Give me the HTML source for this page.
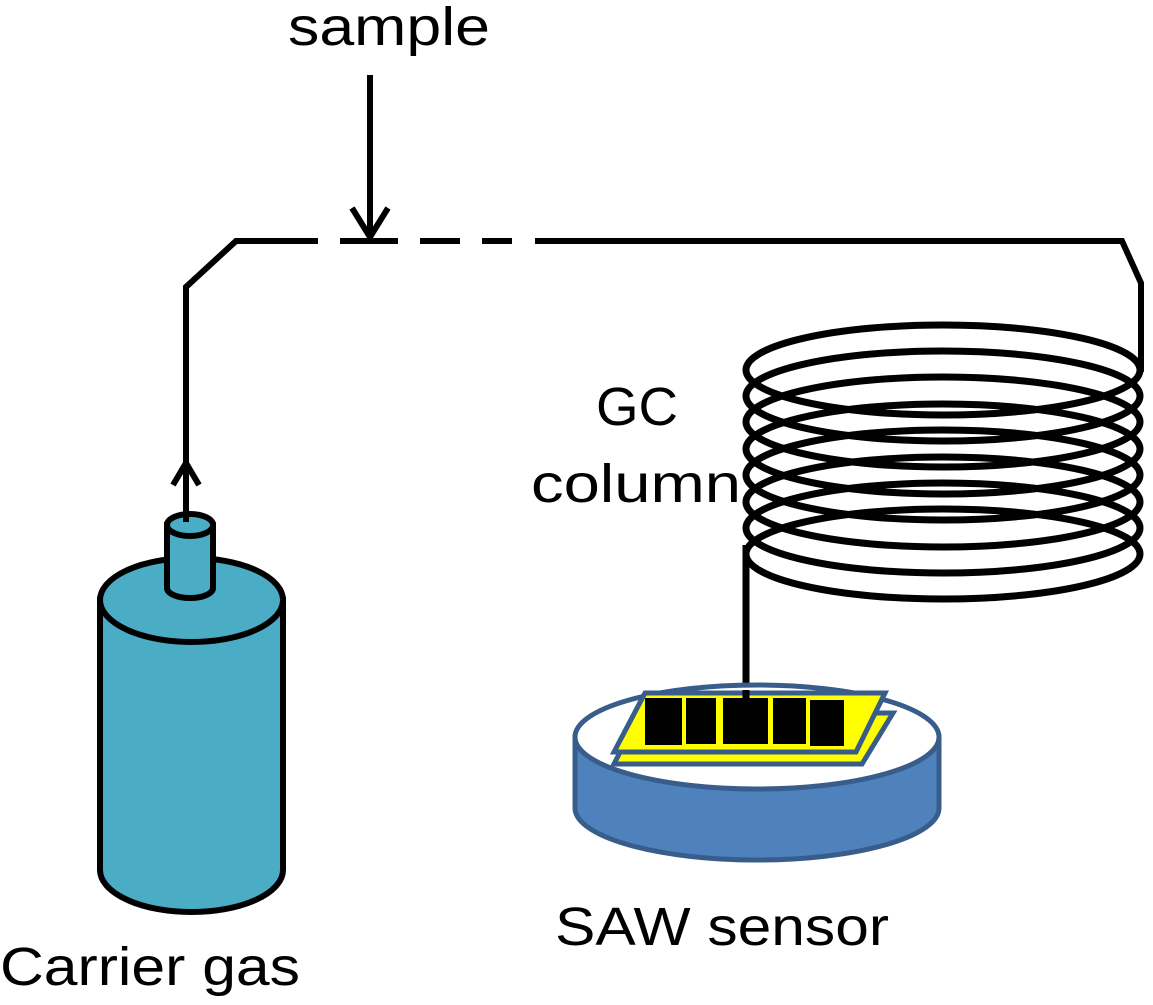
<!DOCTYPE html>
<html><head><style>body{margin:0;background:#fff}</style></head><body>
<svg width="1153" height="1000" viewBox="0 0 1153 1000" xmlns="http://www.w3.org/2000/svg" font-family="Liberation Sans, sans-serif">
<!-- cylinder -->
<path d="M100,600 L100,870 A91.5,42 0 0 0 283,870 L283,600 Z" fill="#4bacc6" stroke="#000" stroke-width="6"/>
<ellipse cx="191.5" cy="600" rx="91.5" ry="42" fill="#4bacc6" stroke="#000" stroke-width="6"/>
<path d="M167,525 L167,588 A23,10 0 0 0 213,588 L213,525 Z" fill="#4bacc6" stroke="#000" stroke-width="6"/>
<ellipse cx="190" cy="525" rx="23" ry="11" fill="#4bacc6" stroke="#000" stroke-width="6"/>
<!-- pipe -->
<g stroke="#000" stroke-width="6" fill="none">
<polyline points="186,522 186,287 236,241 318,241"/>
<line x1="340" y1="241" x2="398" y2="241"/>
<line x1="420" y1="241" x2="460" y2="241"/>
<line x1="482" y1="241" x2="512" y2="241"/>
<polyline points="535,241 1122,241 1141,283 1141,372"/>
<polyline points="173,485 186,463 199,485"/>
<line x1="370" y1="75" x2="370" y2="236"/>
<polyline points="352,208 370,237 388,208"/>
</g>
<!-- coil -->
<g stroke="#000" stroke-width="7" fill="none">
<ellipse cx="943" cy="370" rx="197" ry="45"/>
<ellipse cx="943" cy="396" rx="197" ry="45"/>
<ellipse cx="943" cy="422" rx="197" ry="45"/>
<ellipse cx="943" cy="449" rx="197" ry="45"/>
<ellipse cx="943" cy="475" rx="197" ry="45"/>
<ellipse cx="943" cy="502" rx="197" ry="45"/>
<ellipse cx="943" cy="528" rx="197" ry="45"/>
<ellipse cx="943" cy="554" rx="197" ry="45"/>
<line x1="746" y1="545" x2="746" y2="700"/>
</g>
<!-- SAW dish -->
<path d="M575,737 L575,808 A182,52 0 0 0 939,808 L939,737 Z" fill="#4f81bd" stroke="#385d8a" stroke-width="5"/>
<ellipse cx="757" cy="737" rx="182" ry="52" fill="#fff" stroke="#385d8a" stroke-width="5"/>
<polygon points="614,764 640,713 893,713 862,764" fill="#ffff00" stroke="#385d8a" stroke-width="5"/>
<polygon points="614,752 645,693 885,693 856,752" fill="#ffff00" stroke="#385d8a" stroke-width="5"/>
<g fill="#000">
<rect x="645" y="698" width="37" height="47"/>
<rect x="686" y="698" width="30" height="46"/>
<rect x="723" y="698" width="45" height="46"/>
<rect x="773" y="698" width="33" height="46"/>
<rect x="810" y="700" width="34" height="46"/>
</g>
<line x1="746" y1="690" x2="746" y2="720" stroke="#000" stroke-width="7"/>
<!-- labels -->
<text x="288" y="45" font-size="54" textLength="202" lengthAdjust="spacingAndGlyphs">sample</text>
<text x="596" y="425" font-size="54" textLength="82" lengthAdjust="spacingAndGlyphs">GC</text>
<text x="531" y="502" font-size="54" textLength="210" lengthAdjust="spacingAndGlyphs">column</text>
<text x="555" y="945" font-size="54" textLength="334" lengthAdjust="spacingAndGlyphs">SAW sensor</text>
<text x="0" y="985" font-size="54" textLength="300" lengthAdjust="spacingAndGlyphs">Carrier gas</text>
</svg>
</body></html>
